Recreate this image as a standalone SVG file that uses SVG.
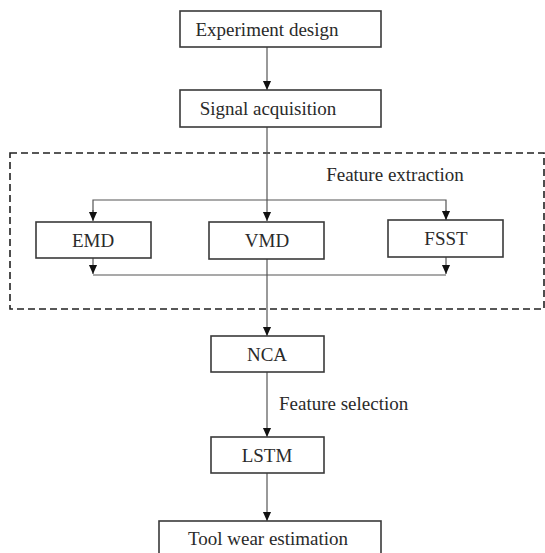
<svg xmlns="http://www.w3.org/2000/svg" width="545" height="553" viewBox="0 0 545 553" font-family="'Liberation Serif', 'DejaVu Serif', serif">
<style>
.box{fill:#fff;stroke:#3a3a3a;stroke-width:1.6}
.t{font-family:'Liberation Serif','DejaVu Serif',serif;font-size:19px;fill:#2a2a2a;text-anchor:middle}
.c{fill:none;stroke:#555;stroke-width:1.2}
.dash{fill:none;stroke:#222;stroke-width:1.6;stroke-dasharray:7,4}
</style>
<defs>
<marker id="ah" markerWidth="9" markerHeight="10" refX="10" refY="4.5" orient="auto" markerUnits="userSpaceOnUse" viewBox="0 0 10 9">
<path d="M0,0 L10,4.5 L0,9 Z" fill="#111"/>
</marker>
</defs>
<rect width="545" height="553" fill="#fff"/>
<rect class="dash" x="10" y="153" width="534" height="156"/>
<text class="t" x="395" y="181">Feature extraction</text>
<g id="connectors">
<line class="c" x1="267" y1="47" x2="267" y2="90" marker-end="url(#ah)"/>
<line class="c" x1="267" y1="127" x2="267" y2="221" marker-end="url(#ah)"/>
<polyline class="c" points="93,220 93,200 446,200 446,220"/>
<line class="c" x1="93" y1="210" x2="93" y2="221" marker-end="url(#ah)"/>
<line class="c" x1="446" y1="210" x2="446" y2="220" marker-end="url(#ah)"/>
<line class="c" x1="93" y1="258" x2="93" y2="274" marker-end="url(#ah)"/>
<line class="c" x1="446" y1="257" x2="446" y2="274" marker-end="url(#ah)"/>
<line class="c" x1="93" y1="275" x2="446" y2="275"/>
<line class="c" x1="267" y1="259" x2="267" y2="336" marker-end="url(#ah)"/>
<line class="c" x1="267" y1="372" x2="267" y2="437" marker-end="url(#ah)"/>
<line class="c" x1="267" y1="473" x2="267" y2="521" marker-end="url(#ah)"/>
<text class="t" x="279" y="410" style="text-anchor:start">Feature selection</text>
</g>
<g id="experiment"><rect class="box" x="180" y="11" width="201" height="36"/><text class="t" x="267" y="36">Experiment design</text></g>
<g id="signal"><rect class="box" x="180" y="90" width="201" height="37"/><text class="t" x="268" y="115">Signal acquisition</text></g>
<g id="emd"><rect class="box" x="36" y="222" width="115" height="36"/><text class="t" x="93" y="247">EMD</text></g>
<g id="vmd"><rect class="box" x="209" y="222" width="115" height="37"/><text class="t" x="267" y="247">VMD</text></g>
<g id="fsst"><rect class="box" x="388" y="220" width="115" height="37"/><text class="t" x="446" y="245">FSST</text></g>
<g id="nca"><rect class="box" x="211" y="336" width="113" height="36"/><text class="t" x="267" y="361">NCA</text></g>
<g id="lstm"><rect class="box" x="211" y="437" width="113" height="36"/><text class="t" x="267" y="462">LSTM</text></g>
<g id="tool"><rect class="box" x="159" y="521" width="222" height="40"/><text class="t" x="268" y="545">Tool wear estimation</text></g>
</svg>
